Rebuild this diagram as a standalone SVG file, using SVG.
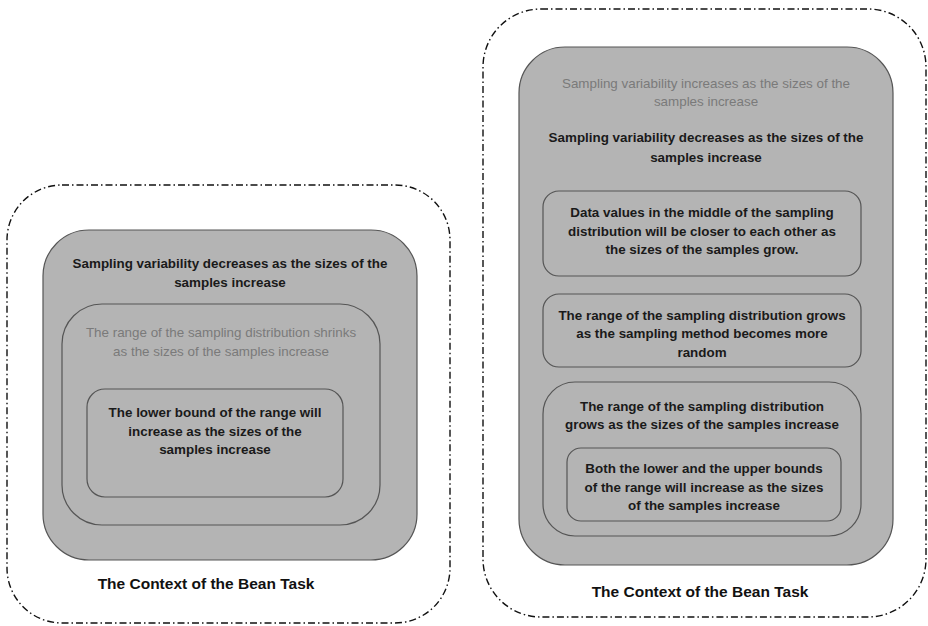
<svg xmlns="http://www.w3.org/2000/svg" width="928" height="626" viewBox="0 0 928 626">
  <style>
    .frame { fill: none; stroke: #111; stroke-width: 1.4; stroke-dasharray: 7 3 1.5 3; }
    .box { fill: #b4b4b4; stroke: #555; stroke-width: 1.2; }
    .t { font-family: "Liberation Sans", Arial, sans-serif; font-size: 13.4px; text-anchor: middle; }
    .b { font-weight: bold; fill: #1a1a1a; }
    .g { fill: #7a7a7a; }
    .cap { font-family: "Liberation Sans", Arial, sans-serif; font-size: 15.5px; font-weight: bold; text-anchor: middle; fill: #111; }
  </style>
  <rect width="928" height="626" fill="#fff"/>

  <!-- left context -->
  <g id="left-context">
    <rect class="frame" x="7" y="185" width="443" height="438" rx="55" ry="55"/>
    <text class="cap" x="206" y="589">The Context of the Bean Task</text>
  </g>
  <g id="left-variability">
    <rect class="box" x="43" y="230" width="374" height="330" rx="46" ry="46"/>
    <text class="t b" x="230" y="268">Sampling variability decreases as the sizes of the</text>
    <text class="t b" x="230" y="287">samples increase</text>
  </g>
  <g id="left-range">
    <rect class="box" x="62" y="304" width="318" height="221" rx="40" ry="40"/>
    <text class="t g" x="221" y="337">The range of the sampling distribution shrinks</text>
    <text class="t g" x="221" y="356">as the sizes of the samples increase</text>
  </g>
  <g id="left-lower-bound">
    <rect class="box" x="87" y="389" width="256" height="108" rx="18" ry="18"/>
    <text class="t b" x="215" y="417">The lower bound of the range will</text>
    <text class="t b" x="215" y="436">increase as the sizes of the</text>
    <text class="t b" x="215" y="454">samples increase</text>
  </g>

  <!-- right context -->
  <g id="right-context">
    <rect class="frame" x="483" y="9" width="443" height="608" rx="58" ry="58"/>
    <text class="cap" x="700" y="597">The Context of the Bean Task</text>
  </g>
  <g id="right-variability">
    <rect class="box" x="519" y="47" width="374" height="518" rx="46" ry="46"/>
    <text class="t g" x="706" y="88">Sampling variability increases as the sizes of the</text>
    <text class="t g" x="706" y="106">samples increase</text>
    <text class="t b" x="706" y="142">Sampling variability decreases as the sizes of the</text>
    <text class="t b" x="706" y="162">samples increase</text>
  </g>
  <g id="right-middle-values">
    <rect class="box" x="543" y="191" width="318" height="85" rx="16" ry="16"/>
    <text class="t b" x="702" y="217">Data values in the middle of the sampling</text>
    <text class="t b" x="702" y="236">distribution will be closer to each other as</text>
    <text class="t b" x="702" y="254">the sizes of the samples grow.</text>
  </g>
  <g id="right-method">
    <rect class="box" x="543" y="294" width="318" height="73" rx="16" ry="16"/>
    <text class="t b" x="702" y="320">The range of the sampling distribution grows</text>
    <text class="t b" x="702" y="338">as the sampling method becomes more</text>
    <text class="t b" x="702" y="357">random</text>
  </g>
  <g id="right-range">
    <rect class="box" x="543" y="382" width="318" height="154" rx="32" ry="32"/>
    <text class="t b" x="702" y="411">The range of the sampling distribution</text>
    <text class="t b" x="702" y="429">grows as the sizes of the samples increase</text>
  </g>
  <g id="right-bounds">
    <rect class="box" x="567" y="448" width="274" height="73" rx="14" ry="14"/>
    <text class="t b" x="704" y="473">Both the lower and the upper bounds</text>
    <text class="t b" x="704" y="492">of the range will increase as the sizes</text>
    <text class="t b" x="704" y="510">of the samples increase</text>
  </g>
</svg>
